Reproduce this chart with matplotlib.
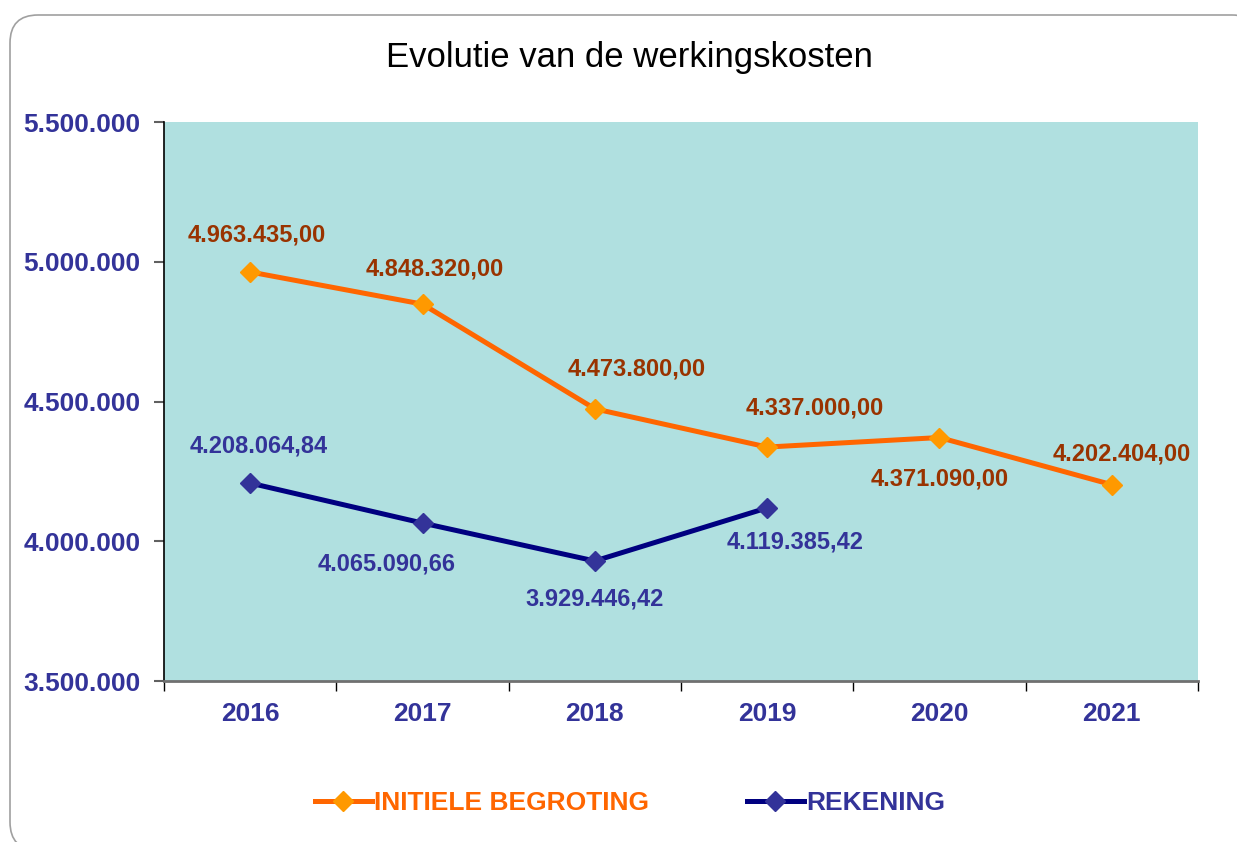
import matplotlib.pyplot as plt
from matplotlib.patches import FancyBboxPatch
from matplotlib.transforms import IdentityTransform

plt.rcParams['font.family'] = ['Liberation Sans', 'DejaVu Sans']

years = ['2016', '2017', '2018', '2019', '2020', '2021']
begroting = [4963435.00, 4848320.00, 4473800.00, 4337000.00, 4371090.00, 4202404.00]
rekening = [4208064.84, 4065090.66, 3929446.42, 4119385.42]
y_ticks = [3500000, 4000000, 4500000, 5000000, 5500000]

# label offsets in pixels (dx, dy)
begroting_offsets = [(7, 37), (12, 35), (42, 40), (48, 39), (0, -41), (10, 31)]
rekening_offsets = [(9, 37), (-36, -41), (0, -38), (28, -34)]


def fmt_nl(v, decimals=2):
    s = f"{v:,.{decimals}f}"
    return s.replace(',', 'X').replace('.', ',').replace('X', '.')


fig = plt.figure(figsize=(12.37, 8.42), dpi=100)

# rounded frame around the chart (pixel coords)
frame = FancyBboxPatch((10, -8), 1250, 835,
                       boxstyle="round,pad=0,rounding_size=28",
                       transform=IdentityTransform(), facecolor='white',
                       edgecolor='#a0a0a0', linewidth=1.2, zorder=-5)
fig.patches.append(frame)

ax = fig.add_axes([164 / 1237, 1 - 681 / 842, (1198 - 164) / 1237, (681 - 122) / 842])
ax.set_zorder(2)
ax.set_facecolor('#b0e0e0')

x_b = list(range(len(begroting)))
x_r = list(range(len(rekening)))

ax.plot(x_b, begroting, color='#ff6600', linewidth=3.6, marker='D',
        markersize=10, markerfacecolor='#ff9900', markeredgecolor='#ff9900',
        label='INITIELE BEGROTING', zorder=3)
ax.plot(x_r, rekening, color='#000080', linewidth=3.6, marker='D',
        markersize=10, markerfacecolor='#333399', markeredgecolor='#333399',
        label='REKENING', zorder=3)

for x, v, off in zip(x_b, begroting, begroting_offsets):
    ax.annotate(fmt_nl(v), (x, v), xytext=off, textcoords='offset pixels',
                ha='center', va='center', fontsize=17, fontweight='bold',
                color='#993300')
for x, v, off in zip(x_r, rekening, rekening_offsets):
    ax.annotate(fmt_nl(v), (x, v), xytext=off, textcoords='offset pixels',
                ha='center', va='center', fontsize=17, fontweight='bold',
                color='#333399')

ax.set_xlim(-0.5, len(years) - 0.5)
ax.set_ylim(3500000, 5500000)
ax.set_yticks(y_ticks)
ax.set_yticklabels([fmt_nl(t, 0) for t in y_ticks])
ax.set_xticks(x_b)
ax.set_xticklabels(years)
ax.set_xticks([i - 0.5 for i in range(len(years) + 1)], minor=True)
ax.tick_params(axis='x', which='major', length=0, pad=15)
ax.tick_params(axis='x', which='minor', length=7, width=1, color='black')
ax.tick_params(axis='y', length=7, width=1.5, color='#606060', pad=10)
for lab in ax.get_xticklabels() + ax.get_yticklabels():
    lab.set_fontsize(19)
    lab.set_fontweight('bold')
    lab.set_color('#333399')

ax.spines['top'].set_visible(False)
ax.spines['right'].set_visible(False)
ax.spines['left'].set_color('black')
ax.spines['left'].set_linewidth(1.2)
ax.spines['bottom'].set_color('#707070')
ax.spines['bottom'].set_linewidth(2)

fig.text(629 / 1237, 1 - 58 / 842, 'Evolutie van de werkingskosten',
         ha='center', va='center', fontsize=25, color='black')

leg = ax.legend(loc='center', bbox_to_anchor=(630 / 1237, 1 - 803 / 842),
                bbox_transform=fig.transFigure, ncol=2, frameon=False,
                handlelength=2.15, handletextpad=0.1, columnspacing=3.7,
                prop={'weight': 'bold', 'size': 19})
leg.get_texts()[0].set_color('#ff6600')
leg.get_texts()[1].set_color('#333399')

fig.savefig('out.png', dpi=100)
